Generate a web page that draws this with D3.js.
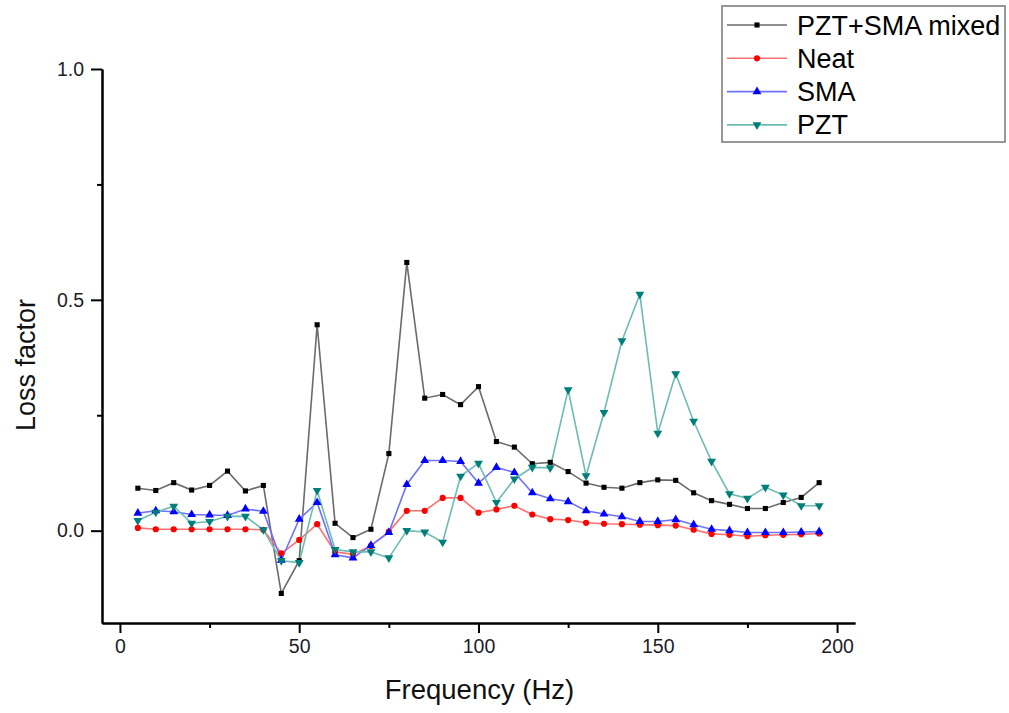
<!DOCTYPE html>
<html>
<head>
<meta charset="utf-8">
<script src="https://cdn.jsdelivr.net/npm/d3@7"></script>
<style>
html,body{margin:0;padding:0;background:#fff;}
svg{display:block;font-family:"Liberation Sans",Arial,sans-serif;}
</style>
</head>
<body>
<svg id="chart" width="1009" height="713"></svg>
<script>
const frequency = [5,10,15,20,25,30,35,40,45,50,55,60,65,70,75,80,85,90,95,100,105,110,115,120,125,130,135,140,145,150,155,160,165,170,175,180,185,190,195];
const mixed = [0.092,0.087,0.104,0.088,0.098,0.129,0.086,0.098,-0.136,-0.065,0.446,0.016,-0.015,0.003,0.167,0.581,0.287,0.295,0.273,0.312,0.193,0.181,0.145,0.148,0.128,0.103,0.094,0.092,0.104,0.110,0.109,0.082,0.065,0.057,0.048,0.048,0.061,0.072,0.104];
const neat = [0.006,0.003,0.003,0.003,0.003,0.003,0.003,0.002,-0.049,-0.020,0.014,-0.046,-0.051,-0.033,-0.002,0.043,0.043,0.071,0.071,0.039,0.046,0.054,0.035,0.025,0.023,0.017,0.015,0.014,0.013,0.012,0.011,0.002,-0.007,-0.009,-0.012,-0.010,-0.009,-0.008,-0.006];
const sma = [0.038,0.043,0.041,0.035,0.034,0.033,0.047,0.042,-0.064,0.025,0.061,-0.052,-0.059,-0.032,-0.004,0.100,0.152,0.152,0.150,0.103,0.137,0.126,0.082,0.069,0.063,0.043,0.036,0.030,0.020,0.020,0.024,0.013,0.003,0.000,-0.004,-0.004,-0.004,-0.003,-0.002];
const pzt = [0.022,0.040,0.053,0.016,0.020,0.031,0.031,0.002,-0.065,-0.069,0.087,-0.041,-0.046,-0.046,-0.059,0.000,-0.003,-0.025,0.118,0.146,0.061,0.112,0.137,0.136,0.305,0.119,0.256,0.411,0.512,0.211,0.340,0.237,0.150,0.080,0.070,0.094,0.077,0.054,0.054];
const seriesNames = ["PZT+SMA mixed","Neat","SMA","PZT"];
const xTicks = [0,50,100,150,200];
const yTicks = [0.0,0.5,1.0];

const series = [
  {name:seriesNames[0], values:mixed, line:"#6b6b6b", fill:"#000000", shape:d3.symbolSquare, size:26},
  {name:seriesNames[1], values:neat, line:"#ff7070", fill:"#ff0000", shape:d3.symbolCircle, size:30},
  {name:seriesNames[2], values:sma, line:"#7070ff", fill:"#0000ff", shape:d3.symbolTriangle, size:34},
  {name:seriesNames[3], values:pzt, line:"#6cbcb4", fill:"#007f7a", shape:d3.symbolTriangle, size:34, flip:true}
];

const svg = d3.select("#chart");
const mLeft = 102, mRight = 855, mTop = 69, mBottom = 623;
const x = d3.scaleLinear().domain([-5,205]).range([mLeft,mRight]);
const y = d3.scaleLinear().domain([-0.2,1.0]).range([mBottom,mTop]);

// axes
const xAxis = d3.axisBottom(x).tickValues(xTicks).tickSize(10).tickSizeOuter(0).tickPadding(6).tickFormat(d3.format("d"));
const xMinor = d3.axisBottom(x).tickValues([25,75,125,175]).tickSize(5).tickSizeOuter(0).tickFormat("");
const yAxis = d3.axisLeft(y).tickValues(yTicks).tickSize(11).tickSizeOuter(0).tickPadding(7).tickFormat(d3.format(".1f"));
const yMinor = d3.axisLeft(y).tickValues([0.25,0.75]).tickSize(5).tickSizeOuter(0).tickFormat("");

function styleAxis(g){
  g.select(".domain").attr("stroke","#000").attr("stroke-width",2);
  g.selectAll(".tick line").attr("stroke","#000").attr("stroke-width",2);
  g.selectAll(".tick text").attr("fill","#1c1c28").style("font-size","19.5px").style("font-family","'Liberation Sans',Arial,sans-serif");
}
svg.append("g").attr("transform",`translate(0,${mBottom})`).call(xMinor).call(styleAxis);
svg.append("g").attr("transform",`translate(0,${mBottom})`).call(xAxis).call(styleAxis);
svg.append("g").attr("transform",`translate(${mLeft},0)`).call(yMinor).call(styleAxis);
svg.append("g").attr("transform",`translate(${mLeft},0)`).call(yAxis).call(styleAxis);

// titles
svg.append("text").attr("x",(mLeft+mRight)/2+1).attr("y",699).attr("text-anchor","middle")
  .style("font-size","27.5px").attr("fill","#111").text("Frequency (Hz)");
svg.append("text").attr("transform",`translate(35,${365}) rotate(-90)`).attr("text-anchor","middle")
  .style("font-size","27px").attr("fill","#111").text("Loss factor");

// lines and markers
const line = d3.line().x((d,i)=>x(frequency[i])).y(d=>y(d));
series.forEach(s=>{
  svg.append("path").datum(s.values).attr("d",line).attr("fill","none")
    .attr("stroke",s.line).attr("stroke-width",1.6);
});
series.forEach(s=>{
  const sym = d3.symbol().type(s.shape).size(s.size);
  svg.append("g").selectAll("path").data(s.values).join("path")
    .attr("d",sym)
    .attr("transform",(d,i)=>`translate(${x(frequency[i])},${y(d)})${s.flip?" rotate(180)":""}`)
    .attr("fill",s.fill);
});

// legend
const lg = svg.append("g");
lg.append("rect").attr("x",722).attr("y",6).attr("width",283).attr("height",136)
  .attr("fill","#fff").attr("stroke","#777").attr("stroke-width",1.5);
series.forEach((s,i)=>{
  const cy = 25 + i*33.3;
  lg.append("line").attr("x1",727).attr("x2",787).attr("y1",cy).attr("y2",cy)
    .attr("stroke",s.line).attr("stroke-width",1.6);
  lg.append("path").attr("d",d3.symbol().type(s.shape).size(s.size)())
    .attr("transform",`translate(757,${cy})${s.flip?" rotate(180)":""}`).attr("fill",s.fill);
  lg.append("text").attr("x",797).attr("y",cy+9.5).style("font-size","27px").attr("fill","#000").text(s.name);
});
</script>
</body>
</html>
